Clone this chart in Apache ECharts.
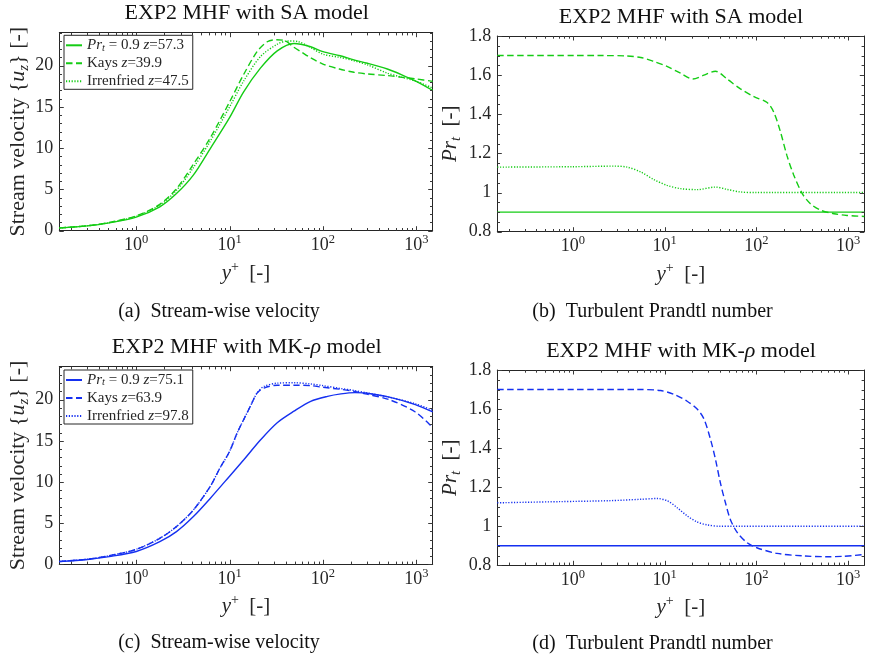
<!DOCTYPE html>
<html>
<head>
<meta charset="utf-8">
<title>EXP2 MHF: SA vs MK-rho</title>
<script src="https://cdn.jsdelivr.net/npm/echarts@6/dist/echarts.min.js"></script>
<style>
  html, body { margin: 0; padding: 0; background: #ffffff; }
  #chart { width: 869px; height: 659px; }
</style>
</head>
<body>
<div id="chart"></div>
<script>
// ---------------------------------------------------------------------------
// Data
// ---------------------------------------------------------------------------

// (a) SA model: stream-wise velocity {u_z} against y+
const saVelPrt09YPlus = [0.15, 0.3, 0.515, 1, 1.79, 2.7, 4.07, 6.17, 10, 14.1, 21.4, 32.4, 49, 74, 100, 153, 215, 300, 490, 700, 1000, 1500];
const saVelPrt09 = [0.33, 0.58, 0.95, 1.65, 2.9, 4.5, 6.7, 9.9, 13.7, 16.8, 19.7, 21.8, 22.7, 22.3, 21.7, 21.2, 20.7, 20.3, 19.6, 18.9, 18.1, 17.0];

const saVelKaysYPlus = [0.15, 0.3, 0.515, 1, 1.79, 2.7, 4.07, 6.17, 10, 14.1, 19.7, 25.3, 32, 40, 48, 60, 73, 100, 150, 215, 300, 490, 700, 1000, 1500];
const saVelKays = [0.34, 0.6, 1.0, 1.8, 3.2, 5.1, 8.0, 11.2, 15.6, 18.9, 21.7, 22.9, 23.15, 23.0, 22.3, 21.6, 21.0, 20.2, 19.6, 19.2, 19.0, 18.8, 18.6, 18.4, 18.1];

const saVelIrrYPlus = [0.15, 0.3, 0.515, 1, 1.79, 2.7, 4.07, 6.17, 10, 14.1, 21.4, 32.4, 42, 55, 74, 100, 153, 215, 300, 490, 700, 1000, 1500];
const saVelIrr = [0.34, 0.6, 0.98, 1.74, 3.1, 4.9, 7.6, 10.8, 15.0, 18.1, 21.1, 22.6, 23.0, 22.9, 22.2, 21.4, 21.0, 20.6, 20.1, 19.1, 18.6, 18.1, 17.3];

// (b) SA model: turbulent Prandtl number Pr_t against y+
const saPrtConstYPlus = [0.15, 1500];
const saPrtConst = [0.9, 0.9];

const saPrtKaysYPlus = [0.15, 1, 2, 3.9, 5.5, 7.6, 10.6, 14.9, 20.3, 26.8, 35.8, 48, 67, 94, 131, 155, 183, 215, 255, 316, 388, 500, 700, 970, 1500];
const saPrtKays = [1.70, 1.70, 1.70, 1.698, 1.69, 1.67, 1.645, 1.61, 1.58, 1.60, 1.62, 1.58, 1.53, 1.49, 1.46, 1.41, 1.31, 1.19, 1.09, 0.995, 0.943, 0.91, 0.892, 0.883, 0.878];

const saPrtIrrYPlus = [0.15, 1, 2.8, 3.9, 5.5, 7.6, 10.6, 14.9, 22.6, 35.8, 48, 67, 100, 1500];
const saPrtIrr = [1.13, 1.132, 1.135, 1.13, 1.105, 1.067, 1.037, 1.02, 1.015, 1.028, 1.016, 1.003, 1.0, 1.0];

// (c) MK-rho model: stream-wise velocity {u_z} against y+
const mkVelPrt09YPlus = [0.15, 0.3, 0.515, 1, 1.79, 2.7, 4.1, 6.2, 10, 14.2, 21.4, 32.4, 49, 74, 112, 156, 220, 285, 513, 977, 1500];
const mkVelPrt09 = [0.33, 0.58, 0.93, 1.56, 2.75, 3.97, 5.8, 8.0, 10.7, 12.7, 15.1, 17.2, 18.6, 19.8, 20.4, 20.7, 20.85, 20.8, 20.3, 19.4, 18.5];

const mkVelKaysYPlus = [0.15, 0.3, 0.515, 1, 1.79, 2.7, 4.1, 6.2, 7.9, 10, 12, 14.2, 16.7, 19.7, 23.3, 32.4, 50, 74, 100, 156, 220, 285, 513, 977, 1500];
const mkVelKays = [0.34, 0.62, 1.05, 1.82, 3.16, 4.58, 6.6, 9.45, 11.7, 13.7, 15.9, 17.6, 19.2, 20.8, 21.4, 21.75, 21.75, 21.7, 21.5, 21.25, 21.0, 20.7, 20.0, 18.5, 16.6];

const mkVelIrrYPlus = [0.15, 0.3, 0.515, 1, 1.79, 2.7, 4.1, 6.2, 7.9, 10, 12, 14.2, 16.7, 19.7, 23.3, 32.4, 50, 74, 100, 156, 220, 285, 513, 977, 1500];
const mkVelIrr = [0.34, 0.62, 1.05, 1.82, 3.16, 4.58, 6.6, 9.45, 11.7, 13.7, 15.9, 17.6, 19.2, 20.8, 21.6, 22.0, 22.05, 21.9, 21.7, 21.35, 21.1, 20.85, 20.3, 19.5, 18.7];

// (d) MK-rho model: turbulent Prandtl number Pr_t against y+
const mkPrtConstYPlus = [0.15, 1500];
const mkPrtConst = [0.9, 0.9];

const mkPrtKaysYPlus = [0.15, 1, 5, 9, 12.6, 17.6, 22.6, 26.8, 31.6, 35.8, 40.6, 46, 52, 62, 79, 101, 168, 327, 590, 891, 1500];
const mkPrtKays = [1.70, 1.70, 1.70, 1.695, 1.675, 1.64, 1.60, 1.55, 1.445, 1.343, 1.22, 1.12, 1.035, 0.967, 0.916, 0.89, 0.861, 0.848, 0.844, 0.846, 0.855];

const mkPrtIrrYPlus = [0.15, 0.73, 2.57, 5.5, 8.3, 10.7, 13.7, 17.6, 22.6, 29, 40, 1500];
const mkPrtIrr = [1.12, 1.126, 1.131, 1.138, 1.142, 1.13, 1.095, 1.053, 1.022, 1.007, 1.0, 1.0];

// Axis ranges and tick values
const yPlusRange = [0.15, 1500];
const decadeTicks = [1, 10, 100, 1000];
const decadeMinorMantissas = [2, 3, 4, 5, 6, 7, 8, 9];
const velocityRange = [0, 24];
const velocityTicks = [0, 5, 10, 15, 20];
const velocityMinorStep = 1;
const prandtlRange = [0.8, 1.8];
const prandtlTicks = [0.8, 1, 1.2, 1.4, 1.6, 1.8];
const prandtlMinorStep = 0.05;

// Series names and their legend texts
const legendNamesSA = ['Prt = 0.9 z=57.3', 'Kays z=39.9', 'Irrenfried z=47.5'];
const legendNamesMK = ['Prt = 0.9 z=75.1', 'Kays z=63.9', 'Irrenfried z=97.8'];
const legendText = {
  'Prt = 0.9 z=57.3': '{i|Pr}{sub|t}{n| = 0.9 }{i|z}{n|=57.3}',
  'Kays z=39.9': '{n|Kays }{i|z}{n|=39.9}',
  'Irrenfried z=47.5': '{n|Irrenfried }{i|z}{n|=47.5}',
  'Prt = 0.9 z=75.1': '{i|Pr}{sub|t}{n| = 0.9 }{i|z}{n|=75.1}',
  'Kays z=63.9': '{n|Kays }{i|z}{n|=63.9}',
  'Irrenfried z=97.8': '{n|Irrenfried }{i|z}{n|=97.8}'
};

// ---------------------------------------------------------------------------
// Styling helpers
// ---------------------------------------------------------------------------
const FONT = "'Liberation Serif', 'Times New Roman', serif";
const INK = '#262626';
const TICK_INK = '#3a3a3a';
const GREEN = '#14cc14';
const BLUE = '#1530f0';
const DASHED = [6.5, 3.5];
const DOTTED = [1.2, 1.6];
const MAJOR_TICK_LEN = 4.5;
const MINOR_TICK_LEN = 2.7;

function rs(size, extra) {
  return Object.assign({ fontFamily: FONT, fontSize: size, color: INK }, extra || {});
}

// minor tick positions
const logMinorTicks = [];
[0.1, 1, 10, 100, 1000].forEach(function (d) {
  decadeMinorMantissas.forEach(function (m) {
    const v = m * d;
    if (v > yPlusRange[0] && v < yPlusRange[1]) logMinorTicks.push(v);
  });
});
function evenMinorTicks(range, step, majors) {
  const out = [];
  const n = Math.round((range[1] - range[0]) / step);
  for (let k = 0; k <= n; k++) {
    const v = +(range[0] + k * step).toFixed(4);
    if (!majors.some(function (m) { return Math.abs(m - v) < 1e-9; })) out.push(v);
  }
  return out;
}
const velocityMinorTicks = evenMinorTicks(velocityRange, velocityMinorStep, velocityTicks);
const prandtlMinorTicks = evenMinorTicks(prandtlRange, prandtlMinorStep, prandtlTicks);

const logLabelRich = {
  b: rs(18, { lineHeight: 24 }),
  sup: rs(12.5, { lineHeight: 14, verticalAlign: 'top' })
};
const nameRich = {
  n: rs(21, { lineHeight: 26 }),
  i: rs(21, { lineHeight: 26, fontStyle: 'italic' }),
  sup: rs(14, { lineHeight: 14, verticalAlign: 'top' }),
  sub: rs(14.5, { lineHeight: 14, verticalAlign: 'bottom', fontStyle: 'italic' })
};
const yNameRich = {
  n: rs(22, { lineHeight: 26 }),
  i: rs(22, { lineHeight: 26, fontStyle: 'italic' }),
  sub: rs(15, { lineHeight: 14, verticalAlign: 'bottom', fontStyle: 'italic' })
};

// Boxed frame: labelled axis on bottom/left, plain frame line on top/right
function frameAxes(gridIndex, cfg) {
  return cfg.positions.map(function (pos, k) {
    const primary = k === 0;
    const ax = {
      gridIndex: gridIndex, type: cfg.type, min: cfg.min, max: cfg.max,
      position: pos, silent: true,
      splitLine: { show: false },
      axisLine: { show: true, onZero: false, lineStyle: { color: INK, width: 1 } },
      axisTick: { show: false },
      axisLabel: primary ? {
        show: true, customValues: cfg.major, formatter: cfg.formatter, margin: cfg.labelMargin,
        color: INK, fontFamily: FONT, fontSize: 18, rich: cfg.labelRich
      } : { show: false }
    };
    if (cfg.type === 'log') ax.logBase = 10;
    if (primary) {
      ax.name = cfg.name;
      ax.nameLocation = 'middle';
      ax.nameGap = cfg.nameGap;
      ax.nameTextStyle = Object.assign({ color: INK, rich: cfg.nameRich }, cfg.nameRich.n);
      if (cfg.nameRotate !== undefined) ax.nameRotate = cfg.nameRotate;
    }
    return ax;
  });
}

function xFrame(g) {
  return frameAxes(g, {
    type: 'log', min: yPlusRange[0], max: yPlusRange[1], positions: ['bottom', 'top'],
    major: decadeTicks, labelMargin: 3, labelRich: logLabelRich,
    formatter: function (v) { return '{b|10}{sup|' + Math.round(Math.log10(v)) + '}'; },
    name: '{i|y}{sup|+}{n|  [-]}', nameGap: 29.5, nameRich: nameRich
  });
}
function velocityFrame(g) {
  return frameAxes(g, {
    type: 'value', min: velocityRange[0], max: velocityRange[1], positions: ['left', 'right'],
    major: velocityTicks, labelMargin: 6,
    formatter: function (v) { return String(v); },
    name: '{n|Stream velocity {}{i|u}{sub|z}}{n| [-]}', nameGap: 28, nameRotate: 90, nameRich: yNameRich
  });
}
function prandtlFrame(g) {
  return frameAxes(g, {
    type: 'value', min: prandtlRange[0], max: prandtlRange[1], positions: ['left', 'right'],
    major: prandtlTicks, labelMargin: 6,
    formatter: function (v) { return String(+(+v).toFixed(1)); },
    name: '{i|Pr}{sub|t}{n|  [-]}', nameGap: 33.5, nameRotate: 90, nameRich: nameRich
  });
}

// Inward tick marks on all four sides, placed through the panel's own scales
function tickMarks(g, yMajor, yMinor, yFloor) {
  const data = [];
  decadeTicks.forEach(function (v) { data.push([v, yFloor, 0]); });
  logMinorTicks.forEach(function (v) { data.push([v, yFloor, 1]); });
  yMajor.forEach(function (v) { data.push([decadeTicks[0], v, 2]); });
  yMinor.forEach(function (v) { data.push([decadeTicks[0], v, 3]); });
  return {
    type: 'custom', xAxisIndex: 2 * g, yAxisIndex: 2 * g,
    silent: true, clip: false, z: 5,
    encode: { x: 0, y: 1 },
    data: data,
    renderItem: function (params, api) {
      const cs = params.coordSys;
      const kind = api.value(2);
      const p = api.coord([api.value(0), api.value(1)]);
      const len = (kind === 0 || kind === 2) ? MAJOR_TICK_LEN : MINOR_TICK_LEN;
      const style = { stroke: TICK_INK, lineWidth: 1 };
      let a, b;
      if (kind < 2) {
        const x = Math.round(p[0]) + 0.5;
        a = { x1: x, y1: cs.y + cs.height, x2: x, y2: cs.y + cs.height - len };
        b = { x1: x, y1: cs.y, x2: x, y2: cs.y + len };
      } else {
        const y = Math.round(p[1]) + 0.5;
        a = { x1: cs.x, y1: y, x2: cs.x + len, y2: y };
        b = { x1: cs.x + cs.width, y1: y, x2: cs.x + cs.width - len, y2: y };
      }
      return {
        type: 'group',
        children: [
          { type: 'line', shape: a, style: style },
          { type: 'line', shape: b, style: style }
        ]
      };
    }
  };
}

function curve(name, xs, ys, color, dash, g) {
  return {
    type: 'line', name: name, xAxisIndex: 2 * g, yAxisIndex: 2 * g,
    data: xs.map(function (x, i) { return [x, ys[i]]; }),
    symbol: 'none', smooth: 0.3, clip: true, z: 3,
    lineStyle: { color: color, width: 1.4, type: dash },
    itemStyle: { color: color },
    emphasis: { disabled: true }
  };
}

// ---------------------------------------------------------------------------
// Layout of the four panels
// ---------------------------------------------------------------------------
const grids = [
  { left: 59.3, top: 32.7, width: 373.4, height: 198 },
  { left: 497.3, top: 36, width: 367, height: 195.7 },
  { left: 59.3, top: 366.7, width: 373.4, height: 197.6 },
  { left: 497.3, top: 370, width: 367, height: 195.3 }
];

const titleRich = {
  n: { fontFamily: FONT, fontSize: 22, lineHeight: 26, color: '#111' },
  i: { fontFamily: FONT, fontSize: 22, lineHeight: 26, color: '#111', fontStyle: 'italic' }
};
function heading(text, cx, top) {
  return {
    text: text, left: cx, top: top, textAlign: 'center', padding: 0,
    textStyle: { fontFamily: FONT, fontSize: 22, lineHeight: 26, color: '#111', fontWeight: 'normal', rich: titleRich }
  };
}
function caption(text, cx, top) {
  return {
    text: text, left: cx, top: top, textAlign: 'center', padding: 0,
    textStyle: { fontFamily: FONT, fontSize: 20, lineHeight: 24, color: '#111', fontWeight: 'normal' }
  };
}

const legendRich = {
  n: rs(15, { lineHeight: 16 }),
  i: rs(15, { lineHeight: 16, fontStyle: 'italic' }),
  sub: rs(10.5, { lineHeight: 9, verticalAlign: 'bottom', fontStyle: 'italic' })
};
function legendBox(names, top) {
  return {
    data: names, left: 64, top: top, orient: 'vertical',
    itemWidth: 16, itemHeight: 16, itemGap: 2, padding: [2, 4, 0, 1],
    backgroundColor: '#ffffff', borderColor: INK, borderWidth: 1, borderRadius: 0,
    selectedMode: false, z: 6,
    // only the line sample is drawn, no marker on it
    itemStyle: { color: 'rgba(0,0,0,0)', borderWidth: 0, opacity: 0 },
    formatter: function (name) { return legendText[name]; },
    textStyle: { fontFamily: FONT, fontSize: 15, lineHeight: 16, color: INK, rich: legendRich }
  };
}

const option = {
  animation: false,
  backgroundColor: '#ffffff',
  title: [
    heading('{n|EXP2 MHF with SA model}', 246.7, 0.7),
    heading('{n|EXP2 MHF with SA model}', 681, 4.5),
    heading('{n|EXP2 MHF with MK-}{i|\u03c1}{n| model}', 246.7, 334.5),
    heading('{n|EXP2 MHF with MK-}{i|\u03c1}{n| model}', 681, 338),
    caption('(a)\u2002Stream-wise velocity', 219, 300),
    caption('(b)\u2002Turbulent Prandtl number', 652.5, 299.5),
    caption('(c)\u2002Stream-wise velocity', 219, 631),
    caption('(d)\u2002Turbulent Prandtl number', 652.5, 631.5)
  ],
  legend: [legendBox(legendNamesSA, 35.3), legendBox(legendNamesMK, 370)],
  grid: grids.map(function (g) {
    return Object.assign({ containLabel: false, outerBoundsMode: 'none', show: false }, g);
  }),
  xAxis: [].concat(xFrame(0), xFrame(1), xFrame(2), xFrame(3)),
  yAxis: [].concat(velocityFrame(0), prandtlFrame(1), velocityFrame(2), prandtlFrame(3)),
  series: [
    tickMarks(0, velocityTicks, velocityMinorTicks, velocityRange[0]),
    tickMarks(1, prandtlTicks, prandtlMinorTicks, prandtlRange[0]),
    tickMarks(2, velocityTicks, velocityMinorTicks, velocityRange[0]),
    tickMarks(3, prandtlTicks, prandtlMinorTicks, prandtlRange[0]),

    curve(legendNamesSA[0], saVelPrt09YPlus, saVelPrt09, GREEN, 'solid', 0),
    curve(legendNamesSA[1], saVelKaysYPlus, saVelKays, GREEN, DASHED, 0),
    curve(legendNamesSA[2], saVelIrrYPlus, saVelIrr, GREEN, DOTTED, 0),

    curve('SA Prt = 0.9', saPrtConstYPlus, saPrtConst, GREEN, 'solid', 1),
    curve('SA Kays', saPrtKaysYPlus, saPrtKays, GREEN, DASHED, 1),
    curve('SA Irrenfried', saPrtIrrYPlus, saPrtIrr, GREEN, DOTTED, 1),

    curve(legendNamesMK[0], mkVelPrt09YPlus, mkVelPrt09, BLUE, 'solid', 2),
    curve(legendNamesMK[1], mkVelKaysYPlus, mkVelKays, BLUE, DASHED, 2),
    curve(legendNamesMK[2], mkVelIrrYPlus, mkVelIrr, BLUE, DOTTED, 2),

    curve('MK Prt = 0.9', mkPrtConstYPlus, mkPrtConst, BLUE, 'solid', 3),
    curve('MK Kays', mkPrtKaysYPlus, mkPrtKays, BLUE, DASHED, 3),
    curve('MK Irrenfried', mkPrtIrrYPlus, mkPrtIrr, BLUE, DOTTED, 3)
  ]
};

const chart = echarts.init(document.getElementById('chart'), null, { renderer: 'canvas' });
chart.setOption(option);
</script>
</body>
</html>
